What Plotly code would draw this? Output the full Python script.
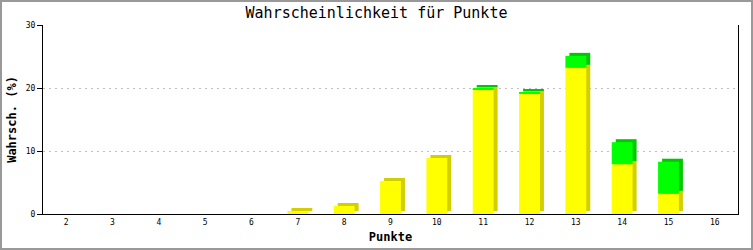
import plotly.graph_objects as go

categories = ["2", "3", "4", "5", "6", "7", "8", "9", "10", "11", "12", "13", "14", "15", "16"]
yellow_vals = [0, 0, 0, 0, 0, 0.48, 1.27, 5.24, 8.9, 19.7, 19.1, 23.2, 7.9, 3.2, 0]
green_vals = [0, 0, 0, 0, 0, 0, 0, 0, 0, 0.2, 0.2, 1.9, 3.5, 5.1, 0]
y_ticks = [0, 10, 20, 30]

W, H = 753, 250
ML, MR, MT, MB = 43, 15, 25, 36
pw, ph = W - ML - MR, H - MT - MB
ymax = 30
n = len(categories)
bw = 0.45
dx = 4 / (pw / n)          # depth offset in category units
dy = 3 / (ph / ymax)        # depth offset in data units

YEL, YEL_D = "#FFFF00", "#D2CE00"
GRN, GRN_D = "#00FF00", "#00C800"

fig = go.Figure()
common = dict(x=categories, width=[bw] * n, marker_line_width=0, showlegend=False, hoverinfo="skip")
fig.add_bar(y=yellow_vals, base=[dy] * n, offset=-bw / 2 + dx, marker_color=YEL_D, **common)
fig.add_bar(y=green_vals, base=[v + dy for v in yellow_vals], offset=-bw / 2 + dx, marker_color=GRN_D, **common)
fig.add_bar(y=yellow_vals, base=[0] * n, offset=-bw / 2, marker_color=YEL, **common)
fig.add_bar(y=green_vals, base=yellow_vals, offset=-bw / 2, marker_color=GRN, **common)

mono = "DejaVu Sans Mono"
fig.update_layout(
    width=W, height=H, barmode="overlay",
    margin=dict(l=ML, r=MR, t=MT, b=MB, autoexpand=False),
    paper_bgcolor="white", plot_bgcolor="white",
    title=dict(text="Wahrscheinlichkeit für Punkte", x=0.5, xanchor="center",
               y=1 - 13 / H, yanchor="middle", font=dict(family=mono, size=15, color="black")),
    xaxis=dict(type="category", showline=True, linecolor="black", linewidth=1, ticks="",
               tickfont=dict(family=mono, size=8, color="black"), showgrid=False,
               title=dict(text="<b>Punkte</b>", font=dict(family=mono, size=12, color="black"), standoff=7),
               range=[-0.5, n - 0.5]),
    yaxis=dict(range=[0, ymax], tickvals=y_ticks, showline=True, linecolor="black", linewidth=1,
               mirror=True, ticks="outside", ticklen=5, tickcolor="black",
               tickfont=dict(family=mono, size=8, color="black"),
               showgrid=True, gridcolor="#C0C0C0", griddash="2px,4px", zeroline=False,
               title=dict(text="<b>Wahrsch. (%)</b>", font=dict(family=mono, size=12, color="black"), standoff=6)),
    shapes=[dict(type="rect", xref="paper", yref="paper",
                 x0=-(ML - 1) / pw, x1=1 + (MR - 1) / pw, y0=-(MB - 1) / ph, y1=1 + (MT - 1) / ph,
                 line=dict(color="#999999", width=2), fillcolor="rgba(0,0,0,0)", layer="above")],
)

fig.write_html("out.html")
